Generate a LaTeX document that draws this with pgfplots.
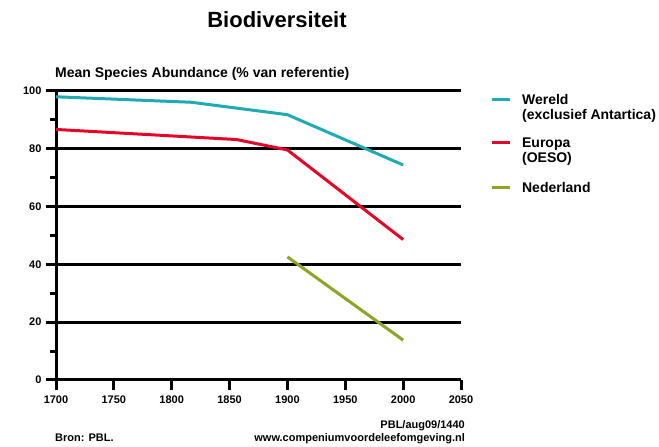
\documentclass[border=0pt]{standalone}
\usepackage{fontspec}
\setmainfont{Liberation Sans}
\usepackage{pgfplots}
\pgfplotsset{compat=1.18}
\definecolor{wereld}{RGB}{32,170,180}
\definecolor{europa}{RGB}{228,8,40}
\definecolor{nederland}{RGB}{140,165,35}
\pgfplotsset{
  legtwo/.style={legend image code/.code={\draw[line width=3pt,##1] (0pt,20pt) -- (18pt,20pt);}},
  legone/.style={legend image code/.code={\draw[line width=3pt,##1] (0pt,5pt) -- (18pt,5pt);}},
}
\begin{document}
\begin{tikzpicture}[x=1pt,y=1pt]
\path[use as bounding box] (0,0) rectangle (659,447);
\begin{axis}[
  at={(56pt,67pt)}, anchor=south west,
  scale only axis, width=405pt, height=289pt,
  xmin=1700, xmax=2050, ymin=0, ymax=100,
  axis x line*=bottom, axis y line*=left,
  axis line style={line width=3pt, black, -},
  xtick={1700,1750,...,2050},
  ytick={0,20,...,100},
  minor ytick={10,30,50,70,90},
  tick align=outside,
  major tick length=10pt,
  minor tick length=6pt,
  every tick/.style={black, line width=3pt},
  ymajorgrids,
  major grid style={black, line width=3pt},
  font=\bfseries,
  tick label style={font=\fontsize{11}{13}\selectfont\bfseries},
  /pgf/number format/assume math mode=true,
  /pgf/number format/1000 sep={},
  xticklabel style={yshift=-2pt},
  yticklabel style={xshift=-1pt},
  clip=false,
  legend style={draw=none, fill=none, at={(axis description cs:1.064,1)}, anchor=north west,
    nodes={inner sep=0pt, anchor=base west, align=left, font=\fontsize{14}{15}\selectfont\bfseries},
    row sep=17.5pt, column sep=11pt, yshift=-1pt},
  legend cell align=left,
]
\addplot[wereld, line width=3pt, legtwo] coordinates {(1700,98) (1817,96.1) (1900,91.8) (2000,74.4)};
\addlegendentry{Wereld\\(exclusief Antartica)}
\addplot[europa, line width=3pt, legtwo] coordinates {(1700,86.7) (1856,83.2) (1900,79.6) (2000,48.6)};
\addlegendentry{Europa\\(OESO)}
\addplot[nederland, line width=3pt, legone] coordinates {(1900,42.6) (2000,13.8)};
\addlegendentry{Nederland}
\node[anchor=base west, font=\fontsize{14}{16}\selectfont\bfseries, inner sep=0pt] at (axis description cs:-0.0025,1) [yshift=13pt] {Mean Species Abundance (\% van referentie)};
\node[anchor=base, font=\fontsize{22}{24}\selectfont\bfseries, inner sep=0pt] at (axis description cs:0.5,1) [yshift=63pt, xshift=18.5pt] {Biodiversiteit};
\node[anchor=base east, font=\fontsize{11}{13}\selectfont\bfseries, inner sep=0pt] at (axis description cs:1.01,0) [yshift=-49pt] {PBL/aug09/1440};
\node[anchor=base east, font=\fontsize{11}{13}\selectfont\bfseries, inner sep=0pt] at (axis description cs:1.01,0) [yshift=-62pt] {www.compeniumvoordeleefomgeving.nl};
\node[anchor=base west, font=\fontsize{11}{13}\selectfont\bfseries, inner sep=0pt] at (axis description cs:-0.0025,0) [yshift=-62pt] {Bron: PBL.};
\end{axis}
\end{tikzpicture}
\end{document}
